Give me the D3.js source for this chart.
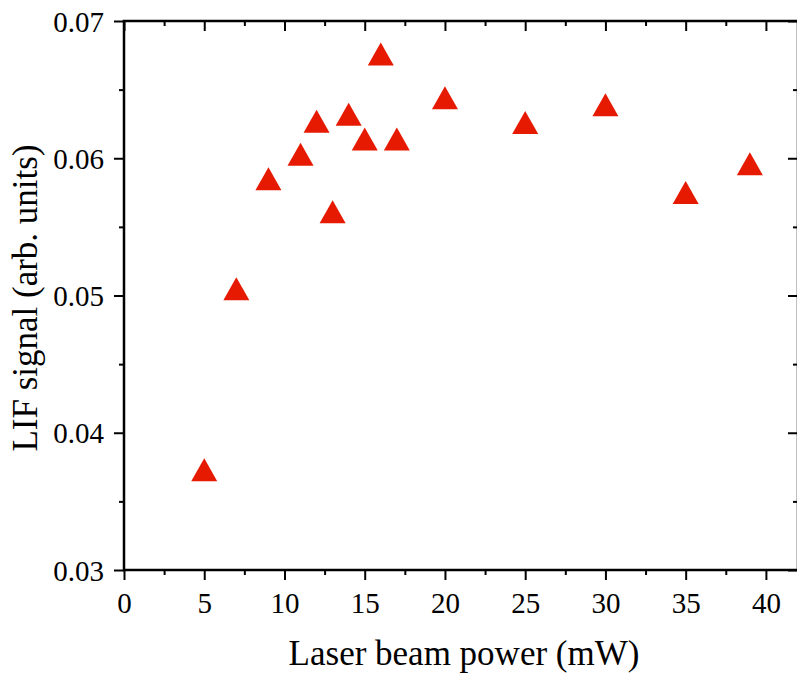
<!DOCTYPE html>
<html>
<head>
<meta charset="utf-8">
<script src="https://cdn.jsdelivr.net/npm/d3@7.9.0/dist/d3.min.js"></script>
<style>
  html, body { margin: 0; padding: 0; background: #fff; }
  svg { display: block; }
</style>
</head>
<body>
<svg id="chart" width="797" height="675"></svg>
<script>
// laser power (mW) and LIF signal (arb. units)
const power = [5, 7, 9, 11, 12, 13, 14, 15, 16, 17, 20, 25, 30, 35, 39];
const signal = [0.0373, 0.0505, 0.0585, 0.0603, 0.0627, 0.0561, 0.0632, 0.0614,
                0.0676, 0.0614, 0.0644, 0.0626, 0.0639, 0.0575, 0.0596];

const xTicks = [0, 5, 10, 15, 20, 25, 30, 35, 40];
const yTicks = [0.03, 0.04, 0.05, 0.06, 0.07];

const serif = "Liberation Serif, DejaVu Serif, serif";

const svg = d3.select('#chart');

const plotLeft = 124, plotRight = 798, plotTop = 21, plotBottom = 570;

const x = d3.scaleLinear().domain([0, 42]).range([plotLeft, plotRight]);
const y = d3.scaleLinear().domain([0.03, 0.07]).range([plotBottom, plotTop]);

const xMinor = d3.range(2.5, 42, 5);
const yMinor = d3.range(0.035, 0.07, 0.01);

function styleAxis(g) {
    g.select('.domain').remove();
    g.selectAll('line').attr('stroke', '#000').attr('stroke-width', 2);
}

// minor ticks first
svg.append('g')
    .attr('transform', `translate(0,${plotBottom})`)
    .call(d3.axisBottom(x).tickValues(xMinor).tickSize(5).tickFormat(''))
    .call(styleAxis);
svg.append('g')
    .attr('transform', `translate(0,${plotTop})`)
    .call(d3.axisBottom(x).tickValues(xMinor).tickSize(5).tickFormat(''))
    .call(styleAxis);
svg.append('g')
    .attr('transform', `translate(${plotLeft},0)`)
    .call(d3.axisLeft(y).tickValues(yMinor).tickSize(5).tickFormat(''))
    .call(styleAxis);
svg.append('g')
    .attr('transform', `translate(${plotRight},0)`)
    .call(d3.axisLeft(y).tickValues(yMinor).tickSize(5).tickFormat(''))
    .call(styleAxis);

// major ticks
const xAxis = svg.append('g')
    .attr('transform', `translate(0,${plotBottom})`)
    .call(d3.axisBottom(x).tickValues(xTicks).tickSize(10).tickFormat(d3.format('d')))
    .call(styleAxis)
    .attr('font-family', serif)
    .attr('font-size', 29);
xAxis.selectAll('text')
    .attr('y', 43).attr('dy', 0)
    .attr('fill', '#000');

svg.append('g')
    .attr('transform', `translate(0,${plotTop})`)
    .call(d3.axisBottom(x).tickValues(xTicks).tickSize(10).tickFormat(''))
    .call(styleAxis);

const yAxis = svg.append('g')
    .attr('transform', `translate(${plotLeft},0)`)
    .call(d3.axisLeft(y).tickValues(yTicks).tickSize(10).tickFormat(d3.format('.2f')))
    .call(styleAxis)
    .attr('font-family', serif)
    .attr('font-size', 29);
yAxis.selectAll('text')
    .attr('x', -20).attr('dy', '0.35em')
    .attr('fill', '#000');

svg.append('g')
    .attr('transform', `translate(${plotRight},0)`)
    .call(d3.axisLeft(y).tickValues(yTicks).tickSize(10).tickFormat(''))
    .call(styleAxis);

// frame
svg.append('rect')
    .attr('x', plotLeft).attr('y', plotTop)
    .attr('width', plotRight - plotLeft).attr('height', plotBottom - plotTop)
    .attr('fill', 'none')
    .attr('stroke', '#000')
    .attr('stroke-width', 2.5);

// triangles
svg.append('g')
    .selectAll('path')
    .data(power.map((p, i) => ({ p, s: signal[i] })))
    .join('path')
    .attr('d', 'M0,-11.5L13,11.5L-13,11.5Z')
    .attr('transform', d => `translate(${x(d.p)},${y(d.s)})`)
    .attr('fill', '#e61a00');

// axis titles
svg.append('text')
    .attr('x', 464).attr('y', 665)
    .attr('text-anchor', 'middle')
    .attr('font-family', serif)
    .attr('font-size', 35)
    .text('Laser beam power (mW)');

svg.append('text')
    .attr('transform', 'translate(37,298) rotate(-90)')
    .attr('text-anchor', 'middle')
    .attr('font-family', serif)
    .attr('font-size', 35)
    .text('LIF signal (arb. units)');
</script>
</body>
</html>
